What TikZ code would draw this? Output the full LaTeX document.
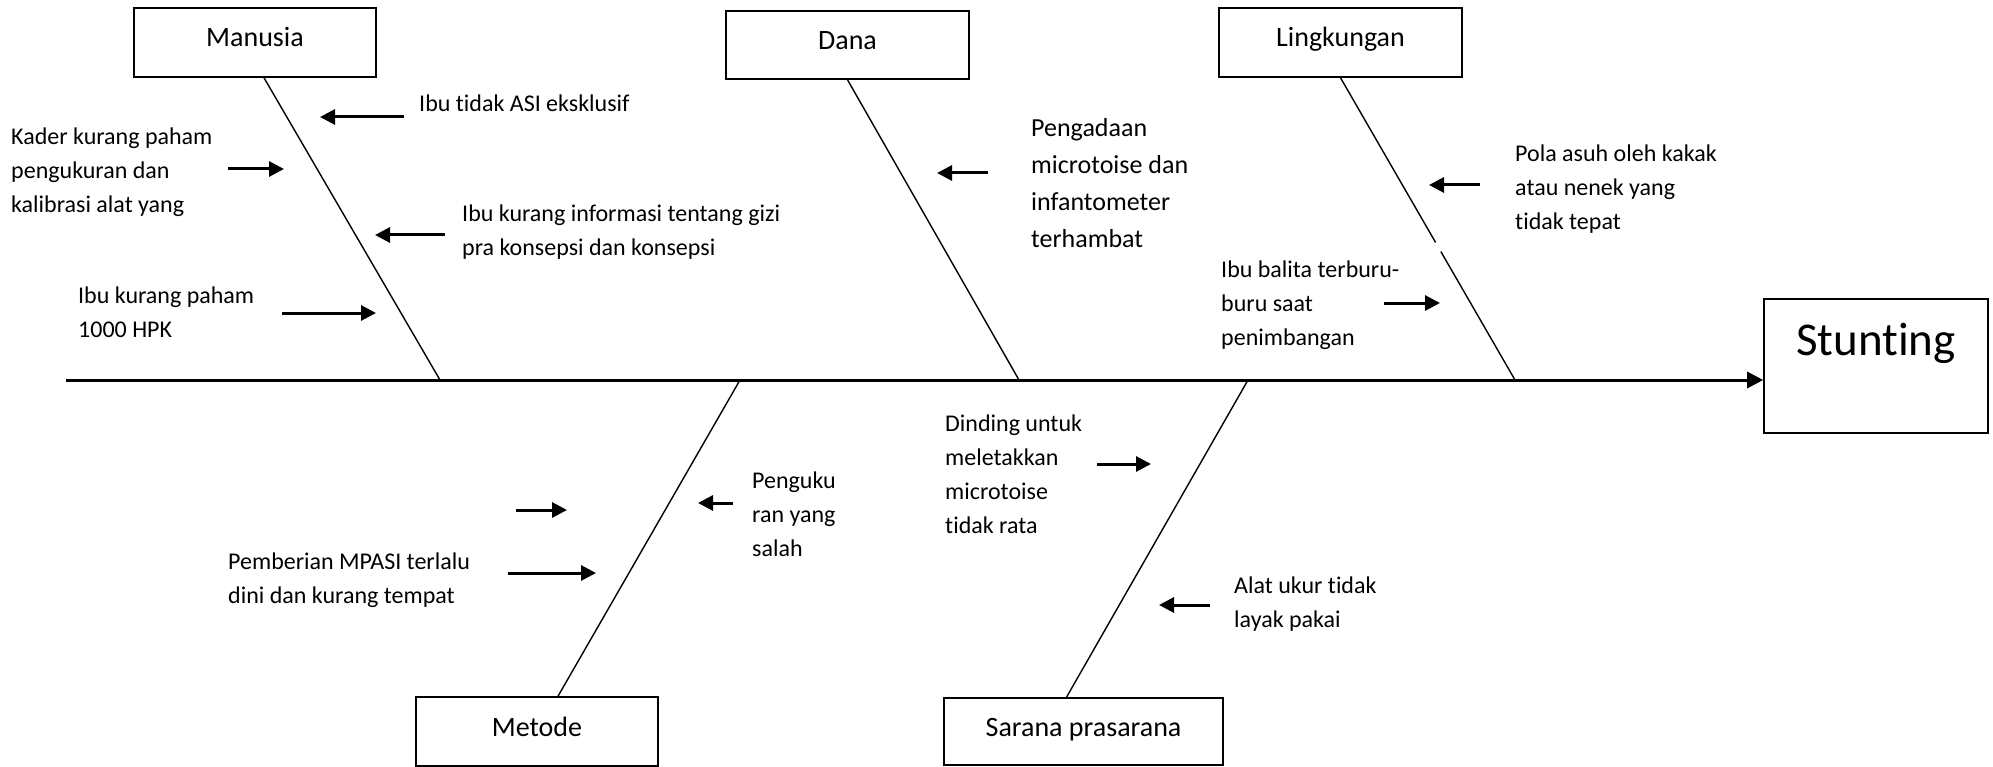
\documentclass[tikz,border=0pt]{standalone}
\usepackage{fontspec}
\setmainfont{Carlito}[RawFeature={-liga;-clig;-calt;-dlig;-rlig}]
\usetikzlibrary{arrows.meta,calc}

\tikzset{
  catbox/.style={draw, line width=1.6pt, inner sep=0pt, minimum width=242pt, minimum height=69pt,
    font=\fontsize{28}{34}\selectfont, text height=14pt, text depth=5pt},
  bone/.style={line width=1.4pt},
  spine/.style={line width=3pt, -{Triangle[length=16pt,width=16pt]}},
  cause/.style={line width=3pt, -{Triangle[length=15pt,width=15pt]}},
  txt/.style={anchor=north west, inner sep=0pt, align=left, font=\fontsize{24}{34}\selectfont},
}

\begin{document}
\begin{tikzpicture}[x=1pt,y=-1pt]
\useasboundingbox (0,0) rectangle (1993,767);

% category boxes and the effect
\node[catbox] (manusia) at (255,42.5) {Manusia};
\node[catbox, minimum width=243pt, minimum height=68pt] (dana) at (847.5,45) {Dana};
\node[catbox, minimum width=243pt] (lingk) at (1340.5,42.5) {Lingkungan};
\node[catbox] (metode) at (537,731.5) {Metode};
\node[catbox, minimum width=279pt, minimum height=67pt] (sarana) at (1083.5,731.5) {Sarana prasarana};
\node[draw, line width=1.6pt, inner sep=0pt, minimum width=224pt, minimum height=134pt,
      font=\fontsize{47}{56}\selectfont, text height=35pt, text depth=57pt] (stunting) at (1876,366) {Stunting};

% spine
\coordinate (tail) at (66,380);
\draw[spine] (tail) -- (tail -| stunting.west);

% where the bones meet the spine
\coordinate (jm) at (440,380);
\coordinate (jd) at (1019,380);
\coordinate (jl) at (1515,380);
\coordinate (jt) at (740,380);
\coordinate (js) at (1248,380);

% bones
\draw[bone] ([xshift=9pt]manusia.south) -- (jm);
\draw[bone] (dana.south) -- (jd);
\draw[bone] (lingk.south) -- ($(lingk.south)!0.545!(jl)$);
\draw[bone] ($(lingk.south)!0.575!(jl)$) -- (jl);
\draw[bone] ([xshift=21pt]metode.north) -- (jt);
\draw[bone] ([xshift=-17pt]sarana.north) -- (js);

% causes: Manusia
\node[txt] (t1) at (419,95) {Ibu tidak ASI eksklusif};
\node[txt] (t2) at (11,128) {Kader kurang paham\\pengukuran dan\\kalibrasi alat yang};
\node[txt] (t3) at (462,205) {Ibu kurang informasi tentang gizi\\pra konsepsi dan konsepsi};
\node[txt] (t4) at (78,287) {Ibu kurang paham\\1000 HPK};

% causes: Dana
\node[txt, font=\fontsize{26}{37}\selectfont] (t5) at (1031,118) {Pengadaan\\microtoise dan\\infantometer\\terhambat};

% causes: Lingkungan
\node[txt] (t6) at (1515,145) {Pola asuh oleh kakak\\atau nenek yang\\tidak tepat};
\node[txt] (t7) at (1221,261) {Ibu balita terburu-\\buru saat\\penimbangan};

% causes: Metode
\node[txt] (t8) at (752,472) {Penguku\\ran yang\\salah};
\node[txt] (t9) at (228,553) {Pemberian MPASI terlalu\\dini dan kurang tempat};

% causes: Sarana prasarana
\node[txt] (t10) at (945,415) {Dinding untuk\\meletakkan\\microtoise\\tidak rata};
\node[txt] (t11) at (1234,577) {Alat ukur tidak\\layak pakai};

% arrow ends
\coordinate (a1s) at (404,117);  \coordinate (a1e) at (320,117);
\coordinate (a2s) at (228,169);  \coordinate (a2e) at (284,169);
\coordinate (a3s) at (445,235);  \coordinate (a3e) at (375,235);
\coordinate (a4s) at (282,313);  \coordinate (a4e) at (376,313);
\coordinate (a5s) at (988,173);  \coordinate (a5e) at (937,173);
\coordinate (a6s) at (1480,185); \coordinate (a6e) at (1429,185);
\coordinate (a7s) at (1384,303); \coordinate (a7e) at (1440,303);
\coordinate (a8s) at (516,510);  \coordinate (a8e) at (567,510);
\coordinate (a9s) at (508,573);  \coordinate (a9e) at (596,573);
\coordinate (a10s) at (733,503); \coordinate (a10e) at (698,503);
\coordinate (a11s) at (1097,464); \coordinate (a11e) at (1151,464);
\coordinate (a12s) at (1210,605); \coordinate (a12e) at (1159,605);

\foreach \i in {1,...,12}{
  \draw[cause] (a\i s) -- (a\i e);
}
\end{tikzpicture}
\end{document}
